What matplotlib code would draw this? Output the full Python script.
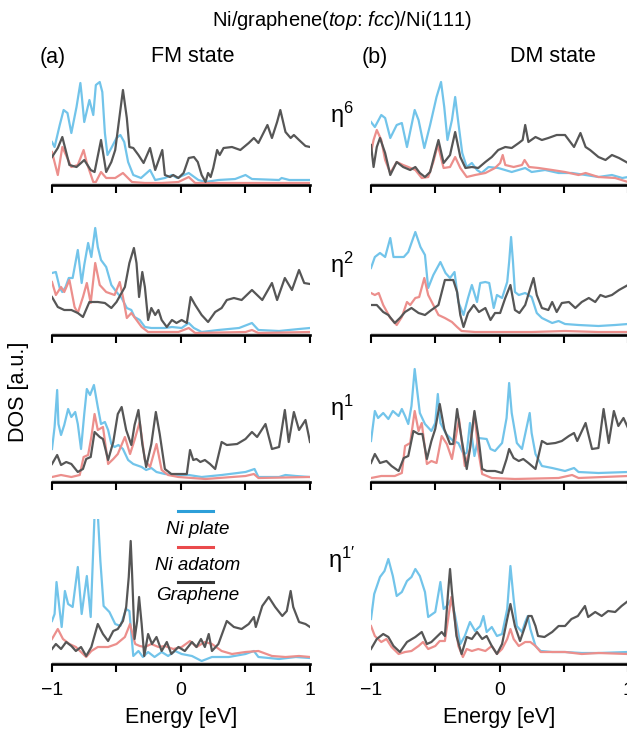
#!/usr/bin/env python3

# DOS of Ni adatom on graphene/Ni(111), FM vs DM state

import matplotlib as mpl
mpl.use("Agg")

import matplotlib.pyplot as plt             # noqa
import numpy as nmp                         # noqa

plt.rcParams['font.family'] = ['Liberation Sans', 'DejaVu Sans']
plt.rcParams['mathtext.fontset'] = 'custom'
plt.rcParams['mathtext.rm'] = 'Liberation Sans'
plt.rcParams['mathtext.it'] = 'Liberation Sans:italic'

# (energy [eV], DOS [a.u.])
# ---- (a) FM state ----
FM6_PLATE = [(-1.0, 43), (-0.98, 38), (-0.94, 60), (-0.91, 75), (-0.88, 72), (-0.85, 52), (-0.81, 78),
             (-0.78, 102), (-0.77, 90), (-0.75, 63), (-0.71, 85), (-0.68, 70), (-0.66, 100), (-0.63, 103),
             (-0.61, 93), (-0.59, 52), (-0.57, 30), (-0.54, 37), (-0.50, 47), (-0.47, 50), (-0.44, 43),
             (-0.41, 23), (-0.37, 10), (-0.31, 7), (-0.24, 15), (-0.20, 5), (-0.125, 7), (-0.07, 10),
             (-0.03, 7), (0.06, 12), (0.135, 5), (0.19, 3), (0.29, 5), (0.42, 6), (0.50, 10), (0.55, 6),
             (0.76, 5), (0.78, 7), (0.84, 5), (1.0, 5)]
FM6_ADATOM = [(-1.0, 33), (-0.955, 10), (-0.92, 38), (-0.85, 18), (-0.80, 20), (-0.755, 35), (-0.73, 22),
              (-0.68, 3), (-0.66, 3), (-0.62, 13), (-0.58, 7), (-0.51, 7), (-0.45, 12), (-0.38, 3),
              (-0.28, 2), (-0.15, 2), (-0.02, 3), (0.06, 8), (0.11, 2), (1.0, 2)]
FM6_GRAPH = [(-1.0, 28), (-0.955, 37), (-0.92, 48), (-0.865, 20), (-0.81, 18), (-0.775, 22), (-0.75, 25),
             (-0.70, 15), (-0.67, 13), (-0.62, 45), (-0.58, 13), (-0.54, 23), (-0.51, 35), (-0.485, 60),
             (-0.45, 95), (-0.42, 67), (-0.40, 38), (-0.37, 37), (-0.33, 30), (-0.29, 22), (-0.24, 37),
             (-0.20, 15), (-0.145, 35), (-0.125, 10), (-0.085, 8), (-0.06, 10), (-0.02, 7), (0.02, 12),
             (0.06, 27), (0.10, 28), (0.13, 23), (0.16, 10), (0.19, 3), (0.21, 12), (0.23, 8), (0.25, 17),
             (0.28, 35), (0.30, 30), (0.33, 37), (0.395, 38), (0.46, 35), (0.525, 42), (0.565, 47),
             (0.60, 42), (0.67, 60), (0.705, 47), (0.745, 63), (0.77, 75), (0.81, 53), (0.85, 47),
             (0.875, 50), (0.915, 45), (0.965, 39), (1.0, 38)]

FM2_PLATE = [(-1.0, 62), (-0.97, 63), (-0.94, 47), (-0.92, 43), (-0.895, 48), (-0.87, 57), (-0.84, 57),
             (-0.80, 85), (-0.77, 52), (-0.75, 70), (-0.72, 92), (-0.695, 78), (-0.665, 107), (-0.645, 88),
             (-0.62, 75), (-0.58, 68), (-0.54, 50), (-0.50, 43), (-0.46, 37), (-0.42, 27), (-0.385, 25),
             (-0.36, 18), (-0.32, 15), (-0.28, 8), (-0.23, 7), (-0.125, 7), (-0.07, 8), (0.005, 7),
             (0.06, 12), (0.10, 7), (0.16, 3), (0.29, 5), (0.45, 7), (0.55, 12), (0.60, 5), (0.76, 4),
             (0.915, 6), (1.0, 7)]
FM2_ADATOM = [(-1.0, 53), (-0.97, 40), (-0.93, 48), (-0.905, 43), (-0.865, 55), (-0.825, 28), (-0.80, 22),
              (-0.76, 38), (-0.73, 52), (-0.70, 32), (-0.665, 72), (-0.63, 50), (-0.58, 43), (-0.515, 40),
              (-0.475, 53), (-0.45, 38), (-0.42, 17), (-0.385, 22), (-0.345, 15), (-0.305, 8), (-0.255, 3),
              (-0.02, 3), (0.06, 7), (0.11, 2), (0.50, 3), (0.55, 5), (0.60, 2), (1.0, 3)]
FM2_GRAPH = [(-1.0, 38), (-0.955, 28), (-0.905, 25), (-0.85, 25), (-0.80, 22), (-0.76, 18), (-0.71, 33),
             (-0.645, 33), (-0.59, 32), (-0.54, 27), (-0.50, 33), (-0.435, 48), (-0.40, 72), (-0.365, 87),
             (-0.345, 72), (-0.325, 38), (-0.30, 63), (-0.28, 48), (-0.255, 15), (-0.23, 27), (-0.20, 20),
             (-0.175, 25), (-0.15, 15), (-0.11, 8), (-0.07, 15), (-0.035, 12), (0.005, 15), (0.045, 12),
             (0.075, 38), (0.11, 30), (0.16, 20), (0.21, 13), (0.265, 23), (0.315, 27), (0.355, 35),
             (0.41, 37), (0.47, 35), (0.55, 45), (0.63, 35), (0.705, 52), (0.745, 35), (0.805, 57),
             (0.86, 45), (0.915, 65), (0.955, 52), (1.0, 51)]

FM1_PLATE = [(-1.0, 33), (-0.98, 55), (-0.96, 92), (-0.95, 58), (-0.93, 47), (-0.905, 57), (-0.875, 73),
             (-0.85, 65), (-0.82, 70), (-0.80, 58), (-0.775, 33), (-0.75, 68), (-0.73, 93), (-0.705, 87),
             (-0.675, 97), (-0.645, 75), (-0.62, 58), (-0.59, 60), (-0.565, 52), (-0.54, 38), (-0.515, 35),
             (-0.485, 37), (-0.45, 33), (-0.41, 22), (-0.37, 18), (-0.305, 15), (-0.27, 12), (-0.23, 14),
             (-0.19, 10), (-0.125, 8), (-0.02, 7), (0.06, 7), (0.16, 5), (0.315, 7), (0.50, 10),
             (0.57, 13), (0.60, 5), (0.76, 5), (0.81, 7), (0.89, 6), (1.0, 5)]
FM1_ADATOM = [(-1.0, 5), (-0.93, 7), (-0.85, 5), (-0.785, 7), (-0.755, 25), (-0.72, 27), (-0.695, 45),
              (-0.67, 68), (-0.645, 52), (-0.605, 55), (-0.565, 18), (-0.525, 23), (-0.49, 28), (-0.435, 45),
              (-0.395, 28), (-0.36, 42), (-0.32, 60), (-0.28, 22), (-0.24, 15), (-0.19, 38), (-0.15, 12),
              (-0.10, 7), (-0.02, 5), (0.19, 3), (0.50, 6), (0.565, 8), (0.60, 4), (1.0, 5)]
FM1_GRAPH = [(-1.0, 18), (-0.96, 27), (-0.93, 17), (-0.89, 20), (-0.85, 18), (-0.80, 10), (-0.76, 13),
             (-0.735, 23), (-0.70, 25), (-0.67, 50), (-0.63, 45), (-0.605, 43), (-0.565, 22), (-0.525, 40),
             (-0.49, 68), (-0.46, 75), (-0.425, 52), (-0.385, 37), (-0.36, 57), (-0.33, 72), (-0.30, 38),
             (-0.27, 15), (-0.23, 38), (-0.195, 70), (-0.165, 48), (-0.125, 13), (-0.075, 8), (0.005, 8),
             (0.045, 8), (0.07, 32), (0.095, 22), (0.12, 23), (0.15, 20), (0.185, 22), (0.225, 18),
             (0.265, 13), (0.315, 40), (0.355, 37), (0.435, 38), (0.50, 43), (0.55, 50), (0.59, 45),
             (0.655, 58), (0.705, 33), (0.76, 35), (0.805, 72), (0.835, 40), (0.875, 70), (0.915, 52),
             (0.965, 62), (1.0, 40)]

FM1P_PLATE = [(-1.0, 43), (-0.98, 50), (-0.965, 82), (-0.94, 53), (-0.925, 37), (-0.90, 73), (-0.875, 60),
              (-0.84, 57), (-0.80, 97), (-0.77, 50), (-0.73, 88), (-0.70, 47), (-0.67, 150), (-0.645, 150),
              (-0.625, 103), (-0.60, 58), (-0.555, 52), (-0.51, 40), (-0.47, 38), (-0.425, 55), (-0.40, 53),
              (-0.37, 8), (-0.33, 13), (-0.295, 7), (-0.255, 12), (-0.205, 7), (-0.15, 12), (-0.10, 8),
              (-0.045, 13), (0.005, 10), (0.085, 8), (0.16, 3), (0.24, 7), (0.37, 7), (0.50, 10),
              (0.565, 13), (0.60, 7), (0.76, 5), (0.89, 7), (1.0, 6)]
FM1P_ADATOM = [(-1.0, 25), (-0.955, 35), (-0.915, 25), (-0.865, 20), (-0.815, 17), (-0.775, 12), (-0.735, 7),
               (-0.695, 13), (-0.645, 17), (-0.565, 17), (-0.50, 20), (-0.435, 27), (-0.395, 40), (-0.37, 27),
               (-0.355, 20), (-0.32, 18), (-0.28, 17), (-0.23, 20), (-0.175, 17), (-0.125, 18), (-0.06, 15),
               (0.005, 17), (0.07, 23), (0.12, 17), (0.185, 22), (0.24, 20), (0.315, 13), (0.395, 10),
               (0.50, 12), (0.60, 13), (0.705, 8), (0.81, 7), (0.915, 8), (1.0, 7)]
FM1P_GRAPH = [(-1.0, 15), (-0.97, 20), (-0.93, 15), (-0.89, 22), (-0.85, 18), (-0.815, 13), (-0.775, 17),
              (-0.735, 8), (-0.695, 17), (-0.645, 40), (-0.605, 30), (-0.565, 23), (-0.525, 33), (-0.49, 35),
              (-0.45, 43), (-0.425, 57), (-0.405, 87), (-0.39, 123), (-0.38, 93), (-0.36, 25), (-0.34, 43),
              (-0.325, 67), (-0.305, 40), (-0.285, 8), (-0.255, 30), (-0.225, 20), (-0.19, 27), (-0.15, 13),
              (-0.11, 22), (-0.075, 10), (-0.02, 17), (0.03, 13), (0.085, 22), (0.12, 17), (0.155, 25),
              (0.185, 17), (0.215, 30), (0.24, 13), (0.29, 20), (0.355, 43), (0.41, 37), (0.47, 35),
              (0.525, 40), (0.565, 47), (0.58, 37), (0.63, 58), (0.68, 67), (0.73, 57), (0.785, 48),
              (0.82, 53), (0.85, 73), (0.87, 57), (0.915, 42), (0.965, 40), (1.0, 37)]

# ---- (b) DM state ----
DM6_PLATE = [(-1.0, 63), (-0.97, 58), (-0.92, 70), (-0.89, 67), (-0.85, 47), (-0.80, 60), (-0.76, 62),
             (-0.72, 38), (-0.66, 75), (-0.63, 65), (-0.585, 37), (-0.54, 60), (-0.49, 88), (-0.455, 103),
             (-0.43, 78), (-0.405, 45), (-0.37, 65), (-0.345, 88), (-0.32, 62), (-0.29, 32), (-0.255, 18),
             (-0.215, 22), (-0.175, 15), (-0.14, 12), (-0.085, 18), (-0.01, 17), (0.095, 13), (0.20, 17),
             (0.25, 13), (0.355, 15), (0.46, 12), (0.565, 12), (0.67, 10), (0.77, 8), (0.875, 10),
             (0.955, 7), (1.0, 8)]
DM6_ADATOM = [(-1.0, 32), (-0.98, 45), (-0.955, 55), (-0.92, 45), (-0.89, 25), (-0.85, 12), (-0.80, 23),
              (-0.75, 20), (-0.71, 18), (-0.655, 15), (-0.605, 7), (-0.555, 8), (-0.515, 23), (-0.48, 40),
              (-0.435, 17), (-0.385, 18), (-0.345, 28), (-0.305, 17), (-0.255, 8), (-0.19, 10), (-0.11, 12),
              (-0.035, 17), (0.005, 22), (0.025, 30), (0.045, 20), (0.11, 18), (0.175, 20), (0.195, 25),
              (0.23, 18), (0.305, 17), (0.41, 15), (0.51, 13), (0.615, 10), (0.67, 12), (0.77, 8),
              (0.90, 7), (1.0, 3)]
DM6_GRAPH = [(-1.0, 40), (-0.98, 18), (-0.955, 38), (-0.93, 47), (-0.89, 32), (-0.85, 10), (-0.80, 23),
             (-0.75, 18), (-0.695, 15), (-0.655, 18), (-0.62, 12), (-0.58, 8), (-0.54, 13), (-0.50, 33),
             (-0.475, 45), (-0.435, 22), (-0.385, 30), (-0.345, 53), (-0.305, 28), (-0.265, 17),
             (-0.215, 18), (-0.165, 17), (-0.11, 23), (-0.06, 28), (-0.01, 35), (0.045, 38), (0.095, 37),
             (0.15, 42), (0.18, 45), (0.20, 60), (0.225, 43), (0.28, 48), (0.33, 45), (0.38, 47),
             (0.445, 50), (0.51, 50), (0.58, 38), (0.63, 52), (0.67, 38), (0.705, 35), (0.77, 28),
             (0.825, 25), (0.875, 30), (0.93, 27), (1.0, 22)]

DM2_PLATE = [(-1.0, 67), (-0.97, 78), (-0.93, 82), (-0.89, 78), (-0.85, 97), (-0.825, 78), (-0.785, 78),
             (-0.745, 78), (-0.71, 83), (-0.655, 103), (-0.615, 88), (-0.58, 80), (-0.555, 47), (-0.515, 60),
             (-0.46, 73), (-0.42, 62), (-0.385, 57), (-0.35, 63), (-0.32, 33), (-0.28, 20), (-0.245, 37),
             (-0.215, 50), (-0.175, 33), (-0.15, 52), (-0.11, 53), (-0.08, 52), (-0.045, 27), (-0.02, 40),
             (0.02, 37), (0.06, 53), (0.075, 73), (0.09, 98), (0.105, 73), (0.12, 43), (0.15, 40),
             (0.20, 42), (0.25, 38), (0.29, 22), (0.33, 17), (0.41, 12), (0.46, 14), (0.51, 11),
             (0.615, 10), (0.77, 9), (0.90, 10), (1.0, 11)]
DM2_ADATOM = [(-1.0, 42), (-0.97, 40), (-0.94, 42), (-0.905, 30), (-0.85, 17), (-0.80, 10), (-0.76, 18),
              (-0.72, 33), (-0.695, 30), (-0.655, 37), (-0.625, 38), (-0.585, 57), (-0.555, 40), (-0.515, 30),
              (-0.475, 20), (-0.425, 17), (-0.37, 13), (-0.33, 8), (-0.295, 4), (-0.19, 3), (-0.01, 3),
              (0.25, 3), (0.51, 4), (0.77, 3), (1.0, 3)]
DM2_GRAPH = [(-1.0, 30), (-0.955, 30), (-0.905, 23), (-0.865, 20), (-0.815, 12), (-0.775, 17), (-0.735, 23),
             (-0.685, 27), (-0.63, 22), (-0.58, 20), (-0.53, 25), (-0.475, 30), (-0.425, 55), (-0.36, 55),
             (-0.33, 43), (-0.305, 20), (-0.28, 8), (-0.245, 22), (-0.20, 30), (-0.16, 23), (-0.11, 27),
             (-0.07, 15), (-0.035, 22), (0.005, 22), (0.045, 37), (0.085, 50), (0.12, 25), (0.155, 22),
             (0.20, 30), (0.24, 47), (0.265, 57), (0.29, 40), (0.33, 27), (0.38, 25), (0.41, 33),
             (0.445, 23), (0.485, 32), (0.54, 33), (0.59, 27), (0.64, 33), (0.695, 37), (0.745, 33),
             (0.785, 40), (0.825, 38), (0.875, 40), (0.93, 45), (1.0, 50)]

DM1_PLATE = [(-1.0, 41), (-0.97, 71), (-0.945, 64), (-0.905, 69), (-0.865, 63), (-0.83, 71), (-0.785, 66),
             (-0.76, 73), (-0.735, 66), (-0.71, 58), (-0.685, 76), (-0.66, 113), (-0.645, 96), (-0.62, 69),
             (-0.58, 58), (-0.53, 51), (-0.50, 59), (-0.48, 88), (-0.46, 59), (-0.415, 48), (-0.36, 41),
             (-0.32, 39), (-0.28, 28), (-0.255, 29), (-0.23, 59), (-0.195, 26), (-0.165, 44), (-0.10, 43),
             (-0.07, 33), (-0.035, 31), (0.02, 39), (0.055, 64), (0.075, 99), (0.095, 69), (0.135, 39),
             (0.175, 33), (0.20, 48), (0.235, 69), (0.25, 49), (0.28, 28), (0.33, 16), (0.41, 14),
             (0.51, 11), (0.58, 14), (0.615, 10), (0.77, 9), (1.0, 10)]
DM1_ADATOM = [(-1.0, 4), (-0.92, 6), (-0.815, 6), (-0.76, 9), (-0.735, 36), (-0.695, 39), (-0.66, 71),
              (-0.63, 51), (-0.605, 59), (-0.565, 18), (-0.53, 21), (-0.49, 19), (-0.45, 46), (-0.41, 38),
              (-0.37, 23), (-0.315, 63), (-0.27, 16), (-0.23, 33), (-0.195, 69), (-0.165, 31), (-0.135, 8),
              (-0.06, 4), (0.12, 3), (0.46, 4), (0.565, 7), (0.615, 4), (1.0, 6)]
DM1_GRAPH = [(-1.0, 19), (-0.97, 28), (-0.93, 19), (-0.88, 21), (-0.84, 16), (-0.785, 11), (-0.745, 24),
             (-0.71, 26), (-0.67, 51), (-0.63, 48), (-0.60, 48), (-0.565, 23), (-0.53, 41), (-0.50, 53),
             (-0.465, 78), (-0.43, 53), (-0.385, 38), (-0.36, 38), (-0.33, 73), (-0.295, 43), (-0.255, 13),
             (-0.23, 33), (-0.195, 71), (-0.165, 46), (-0.135, 13), (-0.10, 11), (-0.035, 11), (0.02, 9),
             (0.055, 23), (0.075, 33), (0.11, 24), (0.15, 21), (0.185, 23), (0.225, 19), (0.28, 13),
             (0.33, 41), (0.37, 38), (0.435, 39), (0.485, 41), (0.54, 46), (0.58, 49), (0.605, 41),
             (0.67, 59), (0.72, 33), (0.77, 34), (0.81, 73), (0.85, 39), (0.89, 71), (0.925, 56),
             (0.965, 64), (1.0, 54)]

DM1P_PLATE = [(-1.0, 45), (-0.975, 70), (-0.93, 87), (-0.895, 93), (-0.865, 105), (-0.83, 88), (-0.80, 68),
              (-0.76, 72), (-0.72, 83), (-0.685, 87), (-0.655, 95), (-0.62, 88), (-0.58, 72), (-0.555, 47),
              (-0.50, 52), (-0.46, 82), (-0.435, 55), (-0.41, 58), (-0.375, 65), (-0.345, 48), (-0.305, 20),
              (-0.27, 28), (-0.23, 42), (-0.19, 33), (-0.15, 38), (-0.125, 48), (-0.10, 32), (-0.06, 37),
              (-0.02, 28), (0.02, 30), (0.06, 55), (0.085, 98), (0.11, 65), (0.135, 38), (0.175, 32),
              (0.20, 42), (0.22, 48), (0.24, 35), (0.28, 18), (0.32, 13), (0.41, 12), (0.51, 12),
              (0.64, 11), (0.77, 11), (1.0, 12)]
DM1P_ADATOM = [(-1.0, 38), (-0.97, 28), (-0.92, 22), (-0.88, 25), (-0.84, 17), (-0.785, 10), (-0.735, 12),
               (-0.685, 13), (-0.63, 18), (-0.595, 22), (-0.555, 15), (-0.50, 18), (-0.465, 23), (-0.425, 23),
               (-0.375, 67), (-0.345, 42), (-0.32, 18), (-0.285, 7), (-0.255, 15), (-0.215, 13), (-0.165, 15),
               (-0.11, 13), (-0.06, 18), (-0.02, 10), (0.02, 15), (0.06, 25), (0.085, 35), (0.11, 25),
               (0.15, 18), (0.20, 22), (0.24, 22), (0.28, 18), (0.32, 12), (0.41, 12), (0.51, 12),
               (0.64, 10), (0.77, 11), (1.0, 10)]
DM1P_GRAPH = [(-1.0, 15), (-0.955, 25), (-0.905, 30), (-0.865, 27), (-0.825, 18), (-0.775, 12), (-0.72, 22),
              (-0.655, 27), (-0.605, 32), (-0.565, 20), (-0.53, 22), (-0.49, 27), (-0.45, 32), (-0.425, 28),
              (-0.40, 72), (-0.385, 95), (-0.37, 72), (-0.335, 28), (-0.295, 10), (-0.255, 27), (-0.215, 25),
              (-0.175, 32), (-0.135, 25), (-0.10, 28), (-0.06, 18), (-0.02, 10), (0.02, 20), (0.06, 45),
              (0.085, 60), (0.12, 38), (0.16, 23), (0.20, 38), (0.225, 48), (0.25, 48), (0.28, 38),
              (0.30, 28), (0.35, 27), (0.41, 32), (0.46, 38), (0.51, 38), (0.56, 45), (0.61, 48),
              (0.665, 58), (0.69, 47), (0.745, 52), (0.795, 48), (0.845, 53), (0.90, 52), (0.95, 58),
              (1.0, 63)]

ROW_LABELS = [r'$\mathrm{\eta}^{6}$', r'$\mathrm{\eta}^{2}$', r'$\mathrm{\eta}^{1}$', r"$\mathrm{\eta}^{1\prime}$"]
SERIES_NAMES = ['Ni plate', 'Ni adatom', 'Graphene']
XTICKS = [-1, -0.5, 0, 0.5, 1]
XTICKLABELS = ['\u22121', '', '0', '', '1']

FM = [(FM6_PLATE, FM6_ADATOM, FM6_GRAPH), (FM2_PLATE, FM2_ADATOM, FM2_GRAPH),
      (FM1_PLATE, FM1_ADATOM, FM1_GRAPH), (FM1P_PLATE, FM1P_ADATOM, FM1P_GRAPH)]
DM = [(DM6_PLATE, DM6_ADATOM, DM6_GRAPH), (DM2_PLATE, DM2_ADATOM, DM2_GRAPH),
      (DM1_PLATE, DM1_ADATOM, DM1_GRAPH), (DM1P_PLATE, DM1P_ADATOM, DM1P_GRAPH)]

CURVE_COLORS = ['#72c4ea', '#ec8f8c', '#565656']
KEY_COLORS = ['#2d9fd9', '#ea4a4c', '#333333']


def makegraph():
  W, H = 627., 731.
  fig = plt.figure(figsize=(W / 100., H / 100.), dpi=100)

  # column left edges and widths [px]
  cols = [(52., 258.), (371., 257.)]
  # row bottom spine position and axes height [px from top]
  rows = [(185., 110.), (335., 115.), (482., 120.), (664., 145.)]

  axes = {}
  for c, (x0, w) in enumerate(cols):
    data = FM if c == 0 else DM
    for r, (yb, h) in enumerate(rows):
      ax = fig.add_axes([x0 / W, 1. - yb / H, w / W, h / H])
      axes[(c, r)] = ax
      for k in range(3):
        e, d = zip(*data[r][k])
        ax.plot(e, d, color=CURVE_COLORS[k], lw=1.6, solid_joinstyle='round')
      ax.axhline(1.8, color='#d4d4d4', lw=0.8, zorder=0)
      ax.set_xlim(-1, 1)
      ax.set_ylim(0, h)
      for s in ['left', 'right', 'top']:
        ax.spines[s].set_visible(False)
      ax.spines['bottom'].set_linewidth(1.9)
      ax.set_yticks([])
      ax.set_xticks(XTICKS)
      ax.tick_params(axis='x', direction='out', length=5.5, width=1.5, pad=7.5, labelsize=14)
      if r == 3:
        ax.set_xticklabels(XTICKLABELS)
        ax.set_xlabel('Energy [eV]', fontsize=15.5, labelpad=6)
      else:
        ax.set_xticklabels([])

  # titles and labels
  fig.text(342 / W, 1 - 20 / H, r'Ni/graphene($\mathit{top}$: $\mathit{fcc}$)/Ni(111)',
           ha='center', va='center', fontsize=14.5)
  fig.text(53 / W, 1 - 57 / H, '(a)', ha='center', va='center', fontsize=15.5)
  fig.text(193 / W, 1 - 57 / H, 'FM state', ha='center', va='center', fontsize=15.5)
  fig.text(375 / W, 1 - 57 / H, '(b)', ha='center', va='center', fontsize=15.5)
  fig.text(553 / W, 1 - 57 / H, 'DM state', ha='center', va='center', fontsize=15.5)
  fig.text(19 / W, 1 - 392 / H, 'DOS [a.u.]', ha='center', va='center', rotation=90, fontsize=15.5)

  for lab, yc in zip(ROW_LABELS, [115., 265., 408., 560.]):
    fig.text(342 / W, 1 - yc / H, lab, ha='center', va='center', fontsize=17)

  # legend: key line above each name
  for k, (name, yk, yt) in enumerate(zip(SERIES_NAMES, [511., 547., 582.], [530., 566., 596.])):
    fig.add_artist(mpl.lines.Line2D([178 / W, 213 / W], [1 - yk / H, 1 - yk / H],
                                    color=KEY_COLORS[k], lw=2.2))
    fig.text(198 / W, 1 - yt / H, name, ha='center', va='center', fontsize=13.5, style='italic')

  plt.savefig('out.png', dpi=100)


if __name__ == "__main__":
  makegraph()
